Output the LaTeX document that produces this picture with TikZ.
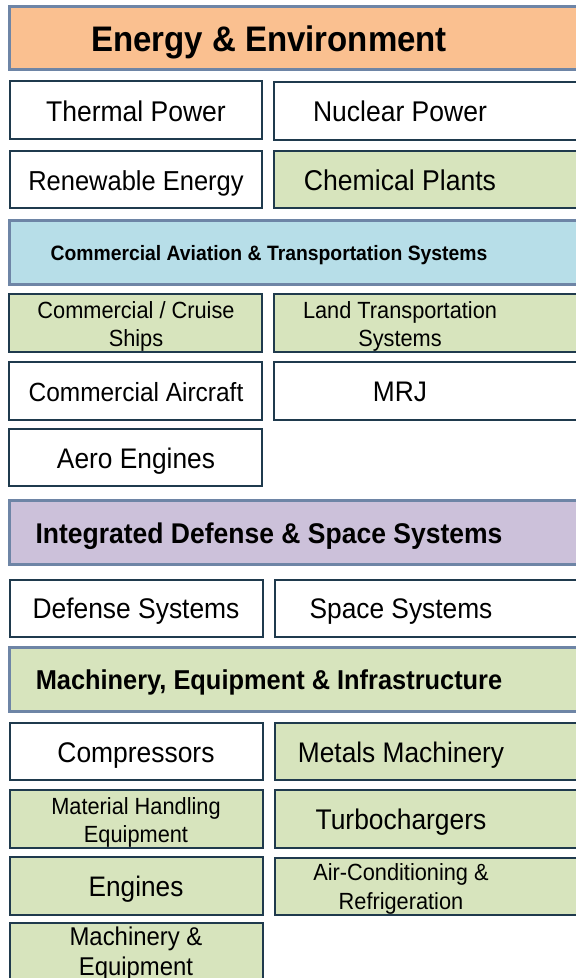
\documentclass[tikz,border=0pt]{standalone}
\usepackage{fontspec}
\setmainfont{Liberation Sans}[FakeStretch=0.93]
\usetikzlibrary{calc}
\definecolor{hdrline}{HTML}{6E85A6}
\definecolor{cellline}{HTML}{1F3A4D}
\definecolor{orangefill}{HTML}{FAC090}
\definecolor{bluefill}{HTML}{B7DEE8}
\definecolor{purplefill}{HTML}{CCC1DA}
\definecolor{greenfill}{HTML}{D7E4BD}
\tikzset{
  hdr/.style={draw=hdrline, line width=3pt, rectangle, inner sep=0pt, outer sep=0pt},
  cell/.style={draw=cellline, line width=2pt, rectangle, inner sep=0pt, outer sep=0pt},
  txt/.style={inner sep=0pt, outer sep=0pt, anchor=base, text=black},
}
% name, fill, y1, y2 (outer edges)
\newcommand\hdrbox[4]{\node[hdr, fill=#2, minimum width={600pt-8pt-3pt}, minimum height={#4pt-#3pt-3pt}] (#1) at ({(8+600)/2},{(#3+#4)/2}) {};}
% name, fill, x1, y1, x2, y2 (outer edges)
\newcommand\cellbox[6]{\node[cell, fill=#2, minimum width={#5pt-#3pt-2pt}, minimum height={#6pt-#4pt-2pt}] (#1) at ({(#3+#5)/2},{(#4+#6)/2}) {};}
% name, x, baseline y, size, weight, text
\newcommand\ctext[6]{\node[txt, font=\fontsize{#4pt}{#4pt}\selectfont#5] (#1) at (#2,#3) {#6};}
\begin{document}
\begin{tikzpicture}[x=1pt,y=-1pt]
\useasboundingbox (0,0) rectangle (576,978);
\fill[white] (0,0) rectangle (576,978);
\clip (0,0) rectangle (576,978);

% ---------- Energy & Environment ----------
\hdrbox{hA}{orangefill}{5}{71}
\ctext{hAt}{269}{51}{35.5}{\bfseries}{Energy \& Environment}

\cellbox{thermal}{white}{9}{80}{263}{140}
\ctext{thermalt}{136}{121}{28.5}{}{Thermal Power}
\cellbox{nuclear}{white}{273}{81}{600}{141}
\ctext{nucleart}{400}{121}{28.5}{}{Nuclear Power}

\cellbox{renew}{white}{9}{150}{263}{209}
\ctext{renewt}{136}{190}{27.4}{}{Renewable Energy}
\cellbox{chem}{greenfill}{273}{150}{600}{209}
\ctext{chemt}{400}{190}{28.6}{}{Chemical Plants}

% ---------- Commercial Aviation ----------
\hdrbox{hB}{bluefill}{219}{286}
\ctext{hBt}{269}{260}{20.8}{\bfseries}{Commercial Aviation \& Transportation Systems}

\cellbox{cruise}{greenfill}{8}{293}{263}{353}
\ctext{cruiset}{136}{318.2}{23.4}{}{Commercial / Cruise}
\ctext{cruiseu}{136}{346.6}{23.4}{}{Ships}
\cellbox{land}{greenfill}{273}{293}{600}{353}
\ctext{landt}{400}{318.2}{23.4}{}{Land Transportation}
\ctext{landu}{400}{346.6}{23.4}{}{Systems}

\cellbox{aircraft}{white}{8}{361}{263}{421}
\ctext{aircraftt}{136}{401.5}{26.3}{}{Commercial Aircraft}
\cellbox{mrj}{white}{273}{361}{600}{421}
\ctext{mrjt}{400}{401.5}{28.3}{}{MRJ}

\cellbox{aero}{white}{8}{428}{263}{487}
\ctext{aerot}{136}{468.8}{28.3}{}{Aero Engines}

% ---------- Integrated Defense ----------
\hdrbox{hC}{purplefill}{499}{566}
\ctext{hCt}{269}{543}{28.5}{\bfseries}{Integrated Defense \& Space Systems}

\cellbox{defense}{white}{9}{579}{264}{638}
\ctext{defenset}{136}{618.5}{28.4}{}{Defense Systems}
\cellbox{space}{white}{274}{579}{600}{638}
\ctext{spacet}{401}{618.5}{28.3}{}{Space Systems}

% ---------- Machinery ----------
\hdrbox{hD}{greenfill}{646}{713}
\ctext{hDt}{269}{689.3}{27.3}{\bfseries}{Machinery, Equipment \& Infrastructure}

\cellbox{compr}{white}{9}{722}{264}{781}
\ctext{comprt}{136}{762}{28.4}{}{Compressors}
\cellbox{metals}{greenfill}{274}{722}{600}{781}
\ctext{metalst}{401}{762}{28.3}{}{Metals Machinery}

\cellbox{mhe}{greenfill}{9}{789}{264}{849}
\ctext{mhet}{136}{814.3}{23.4}{}{Material Handling}
\ctext{mheu}{136}{842.7}{23.4}{}{Equipment}
\cellbox{turbo}{greenfill}{274}{789}{600}{849}
\ctext{turbot}{401}{829.3}{28.4}{}{Turbochargers}

\cellbox{engines}{greenfill}{9}{856}{264}{916}
\ctext{enginest}{136}{896}{28.2}{}{Engines}
\cellbox{aircon}{greenfill}{274}{857}{600}{916}
\ctext{aircont}{401}{880.5}{23.4}{}{Air-Conditioning \&}
\ctext{airconu}{401}{909.3}{23.4}{}{Refrigeration}

\cellbox{mache}{greenfill}{9}{922}{264}{1010}
\ctext{machet}{136}{945}{25.7}{}{Machinery \&}
\ctext{macheu}{136}{975}{25.7}{}{Equipment}
\end{tikzpicture}
\end{document}
